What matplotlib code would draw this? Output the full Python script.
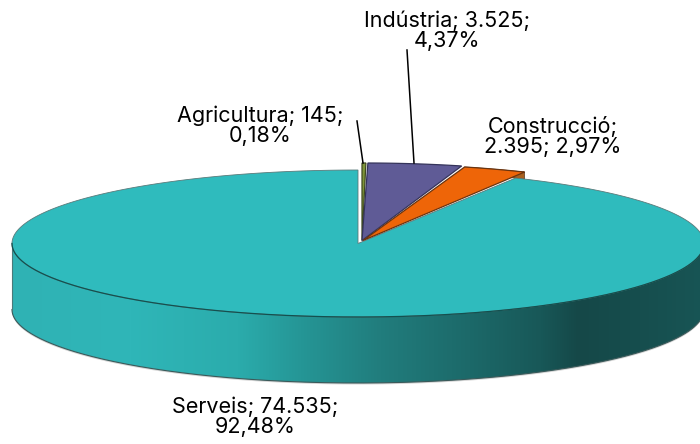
import numpy as np
import matplotlib
matplotlib.use('Agg')
from matplotlib import pyplot as plt
from matplotlib.patches import Polygon

plt.rcParams['font.family'] = ['Inter', 'Liberation Sans', 'DejaVu Sans']

# dades
categories = ['Agricultura', 'Indústria', 'Construcció', 'Serveis']
valors = [145, 3525, 2395, 74535]
valors_txt = ['145', '3.525', '2.395', '74.535']
percents = ['0,18%', '4,37%', '2,97%', '92,48%']
colors = ['#7d9438', '#5f5b96', '#ee6508', '#2fbbbd']
costats = ['#4a5c24', '#3f3c64', '#a8601f', '#2fbbbd']

# geometria del pastis
cx, cy = 358, 243.5
rx, ry = 346, 73.5
alt = 66
apex = [(4, -3), (4, -3), (5, -3)]
expl = [(4, -7), (6, -7), (9, -6)]


def vora(a, ox=0, oy=0, dy=0):
    # a en graus, sentit horari des de dalt
    t = np.radians(a)
    return np.column_stack([cx + ox + rx * np.sin(t), cy + oy + dy - ry * np.cos(t)])


fig = plt.figure(figsize=(7, 4.44), dpi=100)
ax = fig.add_axes([0, 0, 1, 1])
ax.axis('off')

fr = np.cumsum([0] + valors) / sum(valors) * 360

# ombra fina sota el pastis
a = np.linspace(90, 270, 200)
ax.add_patch(Polygon(vora(a, 0, 1.5, alt), closed=True, fc='#d5d5d5', ec='none', zorder=1))

# costat de Construccio (queda gairebe tapat)
a = np.linspace(fr[2], fr[3], 40)
ox, oy = expl[2]
ax.add_patch(Polygon(np.vstack([vora(a, ox, oy), vora(a[::-1], ox, oy, 7)]), closed=True,
                     fc=costats[2], ec='#5a3a20', lw=0.5, zorder=2))

# costat de Serveis, amb degradat
xs = [12, 130, 237, 300, 380, 469, 540, 578, 640, 703]
rs = [47, 47, 43, 37, 33, 28, 24, 21, 22, 24]
gs = [178, 182, 172, 150, 125, 105, 88, 72, 78, 85]
bs = [180, 184, 172, 150, 125, 105, 88, 72, 78, 85]
xg = np.arange(0, 704)
grad = np.dstack([np.interp(xg, xs, rs), np.interp(xg, xs, gs), np.interp(xg, xs, bs)]) / 255
a = np.linspace(90, 270, 500)
dalt = vora(a)
baix = vora(a, dy=alt)
lateral = Polygon(np.vstack([dalt, baix[::-1]]), closed=True, fc='none', ec='none', transform=ax.transData)
ax.add_patch(lateral)
img = ax.imshow(grad, extent=(0, 704, cy + alt + ry + 2, cy - 2), aspect='auto', zorder=3)
img.set_clip_path(lateral)
ax.plot(baix[:, 0], baix[:, 1], color='#3b5a5a', lw=0.8, zorder=4)
ax.plot([12, 12], [cy, cy + alt], color='#4a7a7a', lw=0.8, zorder=4)

# cara de dalt de Serveis
a = np.linspace(fr[3], fr[4], 400)
ax.add_patch(Polygon(np.vstack([[cx, cy], vora(a)]), closed=True, fc=colors[3],
                     ec='#5a7a7a', lw=0.6, zorder=5))
ax.plot(dalt[:, 0], dalt[:, 1], color='#14504f', lw=0.9, zorder=6)

# cares de dalt de les altres llesques
vores = ['#3f4a20', '#34335a', '#6a3410']
for i in range(3):
    a = np.linspace(fr[i], fr[i + 1], 40)
    ax.add_patch(Polygon(np.vstack([[cx + apex[i][0], cy + apex[i][1]], vora(a, *expl[i])]), closed=True,
                         fc=colors[i], ec=vores[i], lw=0.9, zorder=7))

# linies guia
ax.plot([357, 363], [121, 163], color='black', lw=1.1, zorder=8)
ax.plot([407, 414], [50, 163], color='black', lw=1.1, zorder=8)

# etiquetes
mida = 15.5
opts = dict(ha='center', va='center', fontsize=mida, linespacing=1.0)
ax.text(447, 30.5, f'{categories[1]}; {valors_txt[1]};\n{percents[1]}', **opts)
ax.text(260, 126, f'{categories[0]}; {valors_txt[0]};\n{percents[0]}', **opts)
ax.text(553, 136, f'{categories[2]};\n{valors_txt[2]}; {percents[2]}', **opts)
ax.text(255, 417, f'{categories[3]}; {valors_txt[3]};\n{percents[3]}', **opts)

ax.set_xlim(0, 700)
ax.set_ylim(444, 0)

fig.savefig('out.png', dpi=100)
